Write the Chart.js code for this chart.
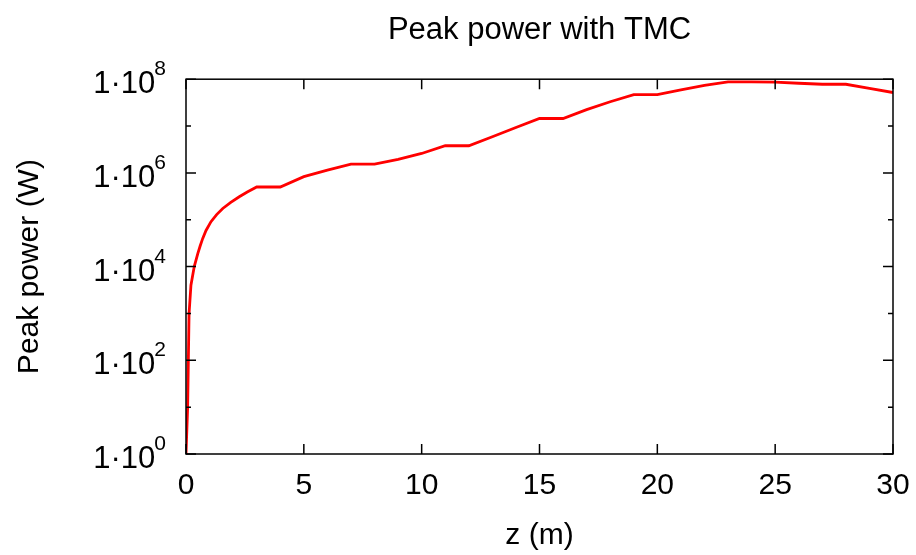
<!DOCTYPE html>
<html>
<head>
<meta charset="utf-8">
<title>Peak power with TMC</title>
<script src="https://cdn.jsdelivr.net/npm/chart.js@4.4.0/dist/chart.umd.min.js"></script>
<style>
    body { margin: 0; background: #fff; }
    canvas { display: block; }
</style>
</head>
<body>
<canvas id="chart" width="916" height="555"></canvas>
<script>
// position along the undulator (m)
const zValues = [0, 0.07, 0.1, 0.13, 0.21, 0.35, 0.5, 0.6, 0.71, 0.85, 1.06, 1.3, 1.56, 1.9, 2.26, 2.6, 3, 4, 5, 6, 7, 8, 9, 10,
    11, 12, 13, 14, 15, 16, 17, 18, 19, 20, 21, 22, 23, 24, 25, 26, 27, 28, 29, 30];
// peak power (W)
const peakPower = [1, 10, 100, 1e3, 4e3, 1e4, 1.9e4, 2.75e4, 4e4, 5.9e4, 9.1e4, 1.29e5, 1.74e5, 2.34e5, 3.1e5, 3.9e5, 5.0e5, 5.0e5, 8.3e5, 1.15e6, 1.54e6, 1.54e6, 1.94e6, 2.6e6,
    3.8e6, 3.8e6, 5.9e6, 9.3e6, 1.45e7, 1.45e7, 2.24e7, 3.3e7, 4.7e7, 4.7e7, 5.9e7, 7.4e7, 8.8e7, 8.8e7, 8.7e7, 8.2e7, 7.8e7, 7.8e7, 6.4e7, 5.2e7];
// axis ticks
const xTicks = [0, 5, 10, 15, 20, 25, 30];
const yExponents = [0, 1, 2, 3, 4, 5, 6, 7, 8];
const yLabelExponents = [0, 2, 4, 6, 8];

const FONT = "'Liberation Sans', Arial, Helvetica, sans-serif";

// frame, inward tick marks and 1·10^n labels (gnuplot look)
const framePlugin = {
    id: 'frame',
    afterDraw(chart) {
        const ctx = chart.ctx;
        const area = chart.chartArea;
        const xs = chart.scales.x;
        const ys = chart.scales.y;
        ctx.save();
        ctx.strokeStyle = '#000';
        ctx.lineWidth = 1.5;
        ctx.strokeRect(area.left, area.top, area.right - area.left, area.bottom - area.top);

        ctx.beginPath();
        xTicks.forEach(v => {
            const px = xs.getPixelForValue(v);
            ctx.moveTo(px, area.bottom); ctx.lineTo(px, area.bottom - 10);
            ctx.moveTo(px, area.top); ctx.lineTo(px, area.top + 10);
        });
        yExponents.forEach(e => {
            const py = ys.getPixelForValue(Math.pow(10, e));
            const len = yLabelExponents.includes(e) ? 10 : 5;
            ctx.moveTo(area.left, py); ctx.lineTo(area.left + len, py);
            ctx.moveTo(area.right, py); ctx.lineTo(area.right - len, py);
        });
        ctx.stroke();

        ctx.fillStyle = '#000';
        ctx.textBaseline = 'alphabetic';
        ctx.textAlign = 'right';
        yLabelExponents.forEach(e => {
            const py = ys.getPixelForValue(Math.pow(10, e));
            const right = area.left - 20;
            ctx.font = '21px ' + FONT;
            const sup = String(e);
            const supW = ctx.measureText(sup).width;
            ctx.fillText(sup, right, py - 4);
            ctx.font = '31px ' + FONT;
            ctx.fillText('1\u00b710', right - supW + 1, py + 14);
        });
        ctx.restore();
    }
};

const ctx = document.getElementById('chart').getContext('2d');
new Chart(ctx, {
    type: 'line',
    data: {
        datasets: [{
            label: 'Peak power',
            data: zValues.map((z, i) => ({ x: z, y: peakPower[i] })),
            borderColor: '#ff0000',
            borderWidth: 2.8,
            pointRadius: 0,
            tension: 0,
            fill: false,
        }],
    },
    options: {
        responsive: false,
        animation: false,
        layout: { padding: { left: 0, right: 23, top: 0, bottom: 0 } },
        plugins: {
            legend: { display: false },
            tooltip: { enabled: false },
            title: {
                display: true,
                fullSize: false,
                text: 'Peak power with TMC',
                color: '#000',
                font: { family: FONT, size: 31, weight: 'normal' },
                padding: { top: 12, bottom: 30 },
            },
        },
        scales: {
            x: {
                type: 'linear',
                min: 0,
                max: 30,
                afterBuildTicks: scale => { scale.ticks = xTicks.map(v => ({ value: v })); },
                afterFit: scale => { scale.height = 101; scale.paddingRight = 0; scale.paddingLeft = 0; },
                grid: { display: false, drawTicks: false },
                border: { display: false },
                ticks: {
                    color: '#000',
                    font: { family: FONT, size: 30 },
                    padding: 14,
                    maxRotation: 0,
                },
                title: {
                    display: true,
                    text: 'z (m)',
                    color: '#000',
                    font: { family: FONT, size: 30 },
                    padding: { top: 0, bottom: 1 },
                },
            },
            y: {
                type: 'logarithmic',
                min: 1,
                max: 1e8,
                afterBuildTicks: scale => { scale.ticks = yExponents.map(e => ({ value: Math.pow(10, e) })); },
                afterFit: scale => { scale.width = 186; },
                grid: { display: false, drawTicks: false },
                border: { display: false },
                ticks: { display: false },
                title: {
                    display: true,
                    text: 'Peak power (W)',
                    color: '#000',
                    font: { family: FONT, size: 30 },
                    padding: { top: 12, bottom: 0 },
                },
            },
        },
    },
    plugins: [framePlugin],
});
</script>
</body>
</html>
